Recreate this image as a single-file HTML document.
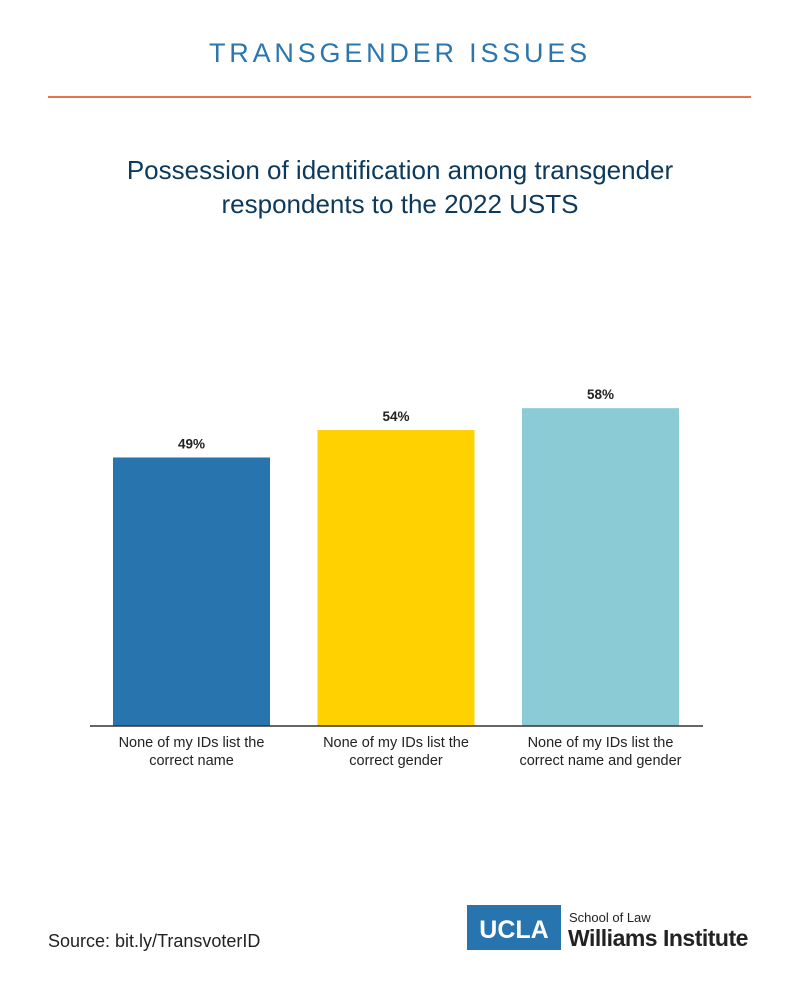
<!DOCTYPE html>
<html><head><meta charset="utf-8"><style>
body{margin:0;background:#fff;}
#wrap{position:relative;width:800px;height:1000px;overflow:hidden;font-family:"Liberation Sans",sans-serif;}
</style></head><body>
<div id="wrap">
<svg id="chart" width="800" height="1000">
<text x="400" y="62" text-anchor="middle" font-size="27" letter-spacing="3.8" fill="#2a76b0">TRANSGENDER ISSUES</text>
<line x1="48" y1="97" x2="751" y2="97" stroke="#e8744c" stroke-width="2"/>
<text x="400" y="179" text-anchor="middle" font-size="26" fill="#0d3a5c">Possession of identification among transgender</text>
<text x="400" y="213" text-anchor="middle" font-size="26" fill="#0d3a5c">respondents to the 2022 USTS</text>
<g id="bars"></g>
<line x1="90" y1="726" x2="703" y2="726" stroke="#333" stroke-width="1.5"/>
<text x="48" y="947" font-size="18" fill="#222">Source: bit.ly/TransvoterID</text>
<rect x="467" y="905" width="94" height="45" fill="#2774ae"/>
<text x="514" y="938" text-anchor="middle" font-size="25" font-weight="bold" fill="#fff">UCLA</text>
<text x="569" y="922" font-size="13" fill="#222">School of Law</text>
<text x="568" y="946" font-size="23" font-weight="bold" fill="#222" letter-spacing="-0.5">Williams Institute</text>
</svg>
</div>
<script>
const categories=[["None of my IDs list the","correct name"],["None of my IDs list the","correct gender"],["None of my IDs list the","correct name and gender"]];
const values=[49,54,58];
const valueLabels=["49%","54%","58%"];
const colors=["#2774ae","#ffd100","#8bcbd6"];
const baseY=726, pxPer=5.48, x0=113, step=204.5, bw=157;
const y=v=>baseY-v*pxPer;
const x=i=>x0+i*step;
const g=document.getElementById('bars');
const NS='http://www.w3.org/2000/svg';
values.forEach((v,i)=>{
 const r=document.createElementNS(NS,'rect');
 r.setAttribute('x',x(i));r.setAttribute('y',y(v));r.setAttribute('width',bw);r.setAttribute('height',baseY-y(v));r.setAttribute('fill',colors[i]);
 
 
 g.appendChild(r);
 const t=document.createElementNS(NS,'text');
 t.setAttribute('x',x(i)+bw/2);t.setAttribute('y',y(v)-9);t.setAttribute('text-anchor','middle');t.setAttribute('font-size','13.5');t.setAttribute('font-weight','bold');t.setAttribute('fill','#222');
 t.textContent=valueLabels[i];
 
 
 g.appendChild(t);
 categories[i].forEach((line,j)=>{
  const c=document.createElementNS(NS,'text');
  c.setAttribute('x',x(i)+bw/2);c.setAttribute('y',747+j*18);c.setAttribute('text-anchor','middle');c.setAttribute('font-size','14.5');c.setAttribute('fill','#222');
  c.textContent=line;
  
  
  g.appendChild(c);
 });
});
</script>
</body></html>
